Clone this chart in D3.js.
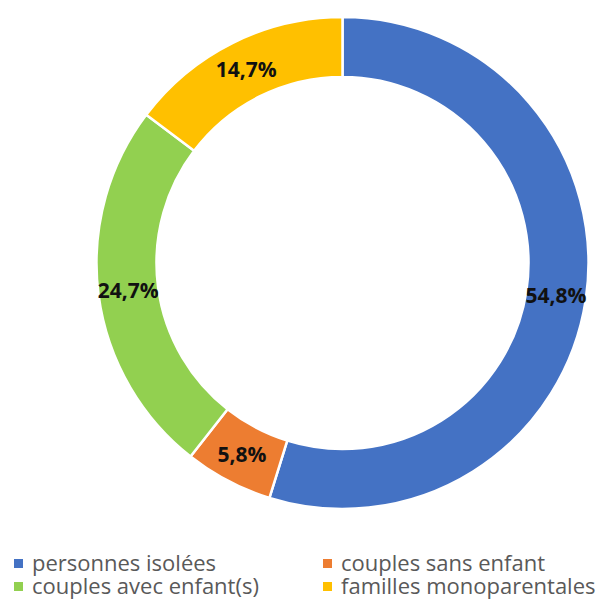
<!DOCTYPE html>
<html>
<head>
<meta charset="utf-8">
<script src="https://cdn.jsdelivr.net/npm/d3@7"></script>
<style>
body { margin: 0; background: #fff; }
svg { display: block; }
</style>
</head>
<body>
<script>
// data
var categories = ["personnes isolées", "couples sans enfant", "couples avec enfant(s)", "familles monoparentales"];
var values = [54.8, 5.8, 24.7, 14.7];
var labels = ["54,8%", "5,8%", "24,7%", "14,7%"];
var colors = ["#4472C4", "#ED7D31", "#92D050", "#FFC000"];

var width = 601, height = 601;
var cx = 342.5, cy = 263, outerR = 246, innerR = 186;

var svg = d3.select("body").append("svg")
	.attr("width", width)
	.attr("height", height);

var pie = d3.pie().sort(null).value(function(d){ return d; });
var arc = d3.arc().innerRadius(innerR).outerRadius(outerR);
var labelArc = d3.arc().innerRadius((innerR + outerR) / 2).outerRadius((innerR + outerR) / 2);

var g = svg.append("g").attr("transform", "translate(" + cx + "," + cy + ")");

var arcs = pie(values);

g.selectAll("path")
	.data(arcs)
	.enter()
	.append("path")
	.attr("d", arc)
	.style("fill", function(d, i){ return colors[i]; })
	.style("stroke", "#fff")
	.style("stroke-width", 2.5);

g.selectAll("text")
	.data(arcs)
	.enter()
	.append("text")
	.attr("transform", function(d){ return "translate(" + labelArc.centroid(d) + ")"; })
	.attr("text-anchor", "middle")
	.attr("dy", "0.35em")
	.style("font-family", "'Open Sans', 'Noto Sans', sans-serif")
	.style("font-weight", "bold")
	.style("font-size", "21px")
	.style("fill", "#111")
	.text(function(d, i){ return labels[i]; });

// legend, 2 columns
var legend = svg.selectAll(".leg")
	.data(categories)
	.enter()
	.append("g")
	.attr("class", "leg")
	.attr("transform", function(d, i){
		var col = i % 2, row = Math.floor(i / 2);
		return "translate(" + (col == 0 ? 14 : 323) + "," + (571 + row * 23) + ")";
	});

legend.append("rect")
	.attr("x", 0)
	.attr("y", -12)
	.attr("width", 9)
	.attr("height", 9)
	.style("fill", function(d, i){ return colors[i]; });

legend.append("text")
	.attr("x", 18)
	.attr("y", 0)
	.style("font-family", "'Open Sans', 'Noto Sans', sans-serif")
	.style("font-size", "22px")
	.style("fill", "#595959")
	.text(function(d){ return d; });
</script>
</body>
</html>
